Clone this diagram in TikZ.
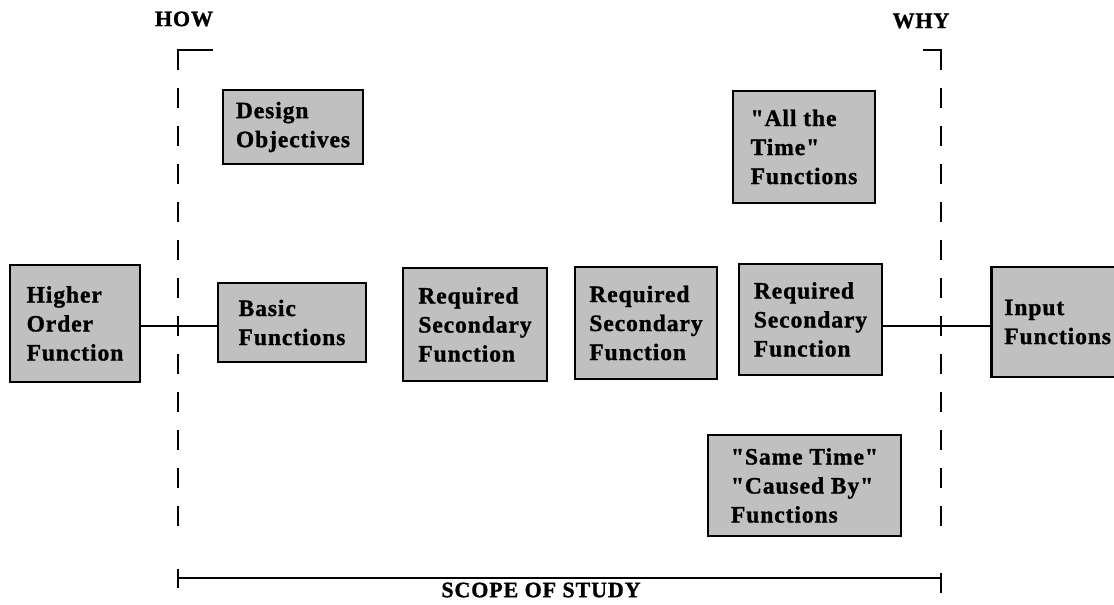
\documentclass[tikz,border=0pt]{standalone}
\usepackage{fontspec}
\setmainfont{Liberation Serif}[LetterSpace=4.0, Ligatures=TeXOff, FakeBold=1.2]
\begin{document}
\begin{tikzpicture}[x=1pt,y=-1pt,
  fbox/.style={draw=black, line width=2.6pt, fill=boxgray, align=left,
    font=\fontsize{23.5}{29}\selectfont\bfseries, inner sep=0pt},
  link/.style={draw=black, line width=2pt},
  scope line/.style={draw=black, line width=2.4pt, dash pattern=on 20pt off 18pt},
  corner/.style={draw=black, line width=2.4pt},
  heading/.style={font=\fontsize{22}{26}\selectfont\bfseries, inner sep=0pt}]
\definecolor{boxgray}{HTML}{C0C0C0}
\useasboundingbox (0,0) rectangle (1114,605);

% headings
\node[heading] (how) at (184,19) {HOW};
\node[heading] (why) at (921,21) {WHY};
\node[heading] (scope) at (541,590) {SCOPE OF STUDY};

% scope markers
\coordinate (lt) at (178,50);
\coordinate (ltend) at (213,50);
\coordinate (lb) at (178,543);
\coordinate (rt) at (941,50);
\coordinate (rtend) at (923,50);
\coordinate (rb) at (941,543);
\coordinate (bl) at (178,578);
\coordinate (br) at (941,578);

\draw[corner] (ltend) -- (lt) -- ++(0,18);
\draw[corner] (rtend) -- (rt) -- ++(0,18);
\draw[scope line] (lt) -- (lb);
\draw[scope line] (rt) -- (rb);
\draw[corner] (bl) -- (br);
\draw[corner] ([yshift=-10pt]bl) -- ([yshift=9pt]bl);
\draw[corner] ([yshift=-15pt]br) -- ([yshift=5pt]br);

% function boxes
\node[fbox, minimum width=130, minimum height=117] (hof) at (75,323.5)
  {Higher\\Order\\Function};
\node[fbox, minimum width=148, minimum height=79] (bf) at (292,322.5)
  {Basic\\Functions};
\node[fbox, minimum width=140, minimum height=74] (do) at (293,127)
  {Design\\Objectives};
\node[fbox, minimum width=144, minimum height=113] (r1) at (475,324.5)
  {Required\\Secondary\\Function};
\node[fbox, minimum width=142, minimum height=112] (r2) at (646,323)
  {Required\\Secondary\\Function};
\node[fbox, minimum width=143, minimum height=111] (r3) at (810.5,319.5)
  {Required\\Secondary\\Function};
\node[fbox, minimum width=142, minimum height=112] (at) at (804,147)
  {"All the\\Time"\\Functions};
\node[fbox, minimum width=193, minimum height=101] (st) at (804.5,485.5)
  {"Same Time"\\"Caused By"\\Functions};
\node[fbox, anchor=west, text width=112, inner xsep=13, minimum height=110] (inp) at (990,322)
  {Input\\Functions};

% connectors
\draw[link] (hof.east |- 0,326) -- (bf.west |- 0,326);
\draw[link] (r3.east |- 0,326) -- (inp.west |- 0,326);
\end{tikzpicture}
\end{document}
